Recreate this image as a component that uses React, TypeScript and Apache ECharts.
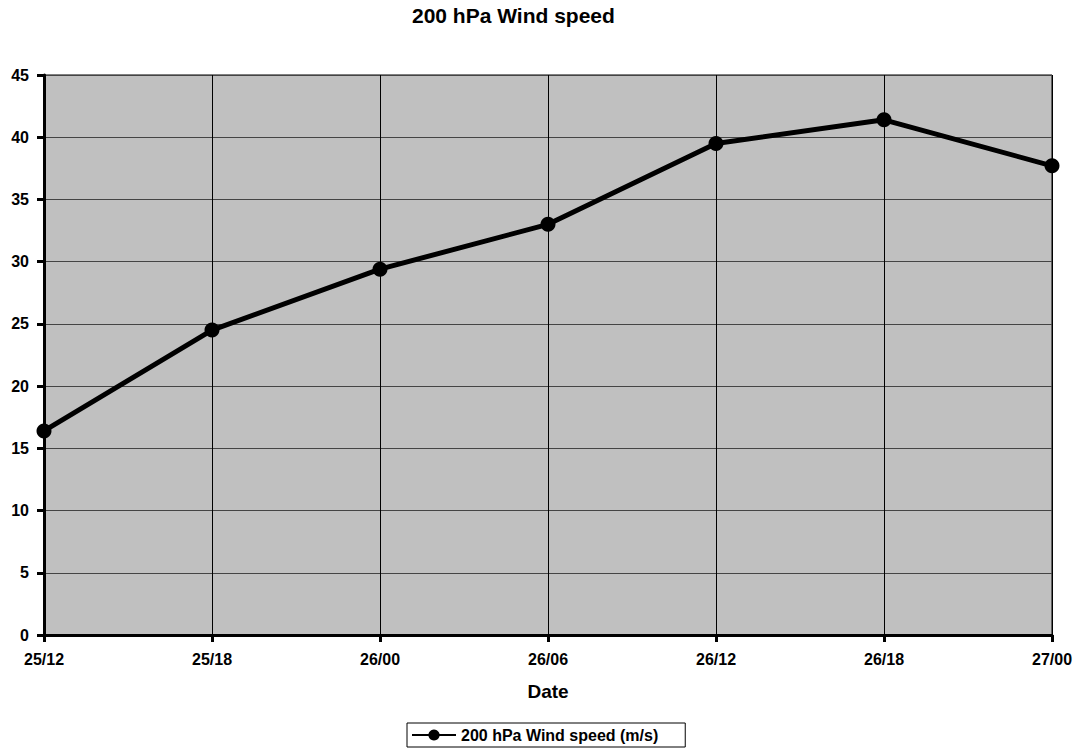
import React, { useEffect, useRef } from "react";
import * as echarts from "echarts";

const categories = ["25/12", "25/18", "26/00", "26/06", "26/12", "26/18", "27/00"];
const windSpeed = [16.4, 24.5, 29.4, 33.0, 39.5, 41.4, 37.7];
const seriesName = "200 hPa Wind speed (m/s)";

export default function App() {
  const ref = useRef<HTMLDivElement>(null);
  useEffect(() => {
    if (!ref.current) return;
    const chart = echarts.init(ref.current, null, { renderer: "svg" });
    chart.setOption({
      animation: false,
      backgroundColor: "#ffffff",
      textStyle: { fontFamily: "Arial, 'Liberation Sans', sans-serif" },
      title: {
        text: "200 hPa Wind speed",
        left: 412,
        top: 5,
        padding: 0,
        textStyle: { fontSize: 21, fontWeight: "bold", color: "#000" },
      },
      grid: {
        left: 44,
        right: 26,
        top: 75,
        bottom: 113,
        show: true,
        backgroundColor: "#c0c0c0",
        borderColor: "#000",
        borderWidth: 1,
      },
      legend: {
        bottom: 1,
        left: 407,
        data: [seriesName],
        itemWidth: 44,
        itemHeight: 14,
        itemGap: 2,
        padding: [4, 27, 4, 4],
        borderColor: "#000",
        borderWidth: 1,
        borderRadius: 0,
        textStyle: { fontSize: 16, fontWeight: "bold", color: "#000" },
      },
      xAxis: {
        type: "category",
        data: categories,
        boundaryGap: false,
        name: "Date",
        nameLocation: "middle",
        nameGap: 47,
        nameTextStyle: { fontSize: 19, fontWeight: "bold", color: "#000" },
        axisLine: { lineStyle: { color: "#000", width: 3 } },
        axisTick: { show: true, length: 7, lineStyle: { color: "#000", width: 3 } },
        axisLabel: { fontSize: 16, fontWeight: "bold", color: "#000", margin: 16 },
        splitLine: { show: true, lineStyle: { color: "#000", width: 1 } },
      },
      yAxis: {
        type: "value",
        min: 0,
        max: 45,
        interval: 5,
        axisLine: { show: true, lineStyle: { color: "#000", width: 3 } },
        axisTick: { show: true, length: 7, lineStyle: { color: "#000", width: 3 } },
        axisLabel: { fontSize: 16, fontWeight: "bold", color: "#000", margin: 15 },
        splitLine: { show: true, lineStyle: { color: "#444", width: 1 } },
      },
      series: [
        {
          name: seriesName,
          type: "line",
          data: windSpeed,
          symbol: "circle",
          symbolSize: 15,
          itemStyle: { color: "#000" },
          lineStyle: { color: "#000", width: 5 },
        },
      ],
    });
    return () => chart.dispose();
  }, []);
  return <div ref={ref} style={{ width: 1078, height: 748, position: "absolute", left: 0, top: 0 }} />;
}
